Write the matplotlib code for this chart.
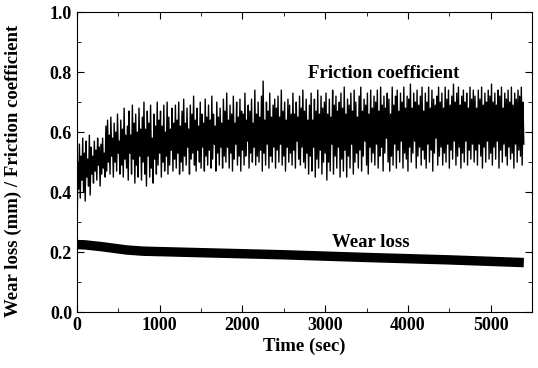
import matplotlib
matplotlib.use("Agg")
import matplotlib.pyplot as plt
import numpy as np
from matplotlib.ticker import MultipleLocator, FormatStrFormatter

plt.rcParams['font.family'] = ['Liberation Serif', 'DejaVu Serif']
plt.rcParams['font.weight'] = 'bold'

# friction coefficient, one reading every 10 s (0 .. 5400 s)
friction = [
    0.17, 0.50, 0.41, 0.56, 0.38, 0.52, 0.44, 0.58, 0.40, 0.53, 0.37, 0.57, 0.45, 0.51, 0.42, 0.59, 0.39, 0.55, 0.46, 0.52,
    0.43, 0.57, 0.47, 0.54, 0.44, 0.58, 0.49, 0.55, 0.42, 0.56, 0.46, 0.58, 0.48, 0.53, 0.45, 0.62, 0.47, 0.64, 0.50, 0.59,
    0.46, 0.65, 0.52, 0.58, 0.45, 0.63, 0.50, 0.60, 0.47, 0.66, 0.53, 0.57, 0.46, 0.64, 0.49, 0.61, 0.45, 0.68, 0.51, 0.59,
    0.48, 0.62, 0.44, 0.67, 0.53, 0.59, 0.46, 0.69, 0.51, 0.63, 0.43, 0.66, 0.49, 0.60, 0.45, 0.68, 0.52, 0.61, 0.44, 0.65,
    0.50, 0.70, 0.46, 0.61, 0.42, 0.67, 0.52, 0.63, 0.45, 0.69, 0.48, 0.58, 0.43, 0.66, 0.51, 0.62, 0.46, 0.70, 0.49, 0.64,
    0.53, 0.67, 0.45, 0.62, 0.50, 0.69, 0.47, 0.60, 0.52, 0.70, 0.46, 0.65, 0.49, 0.61, 0.54, 0.68, 0.47, 0.63, 0.51, 0.69,
    0.48, 0.64, 0.53, 0.70, 0.46, 0.62, 0.50, 0.67, 0.47, 0.71, 0.52, 0.63, 0.49, 0.68, 0.55, 0.61, 0.46, 0.69, 0.51, 0.66,
    0.53, 0.72, 0.49, 0.64, 0.47, 0.68, 0.54, 0.62, 0.50, 0.70, 0.48, 0.66, 0.55, 0.63, 0.47, 0.71, 0.52, 0.65, 0.49, 0.69,
    0.54, 0.64, 0.48, 0.72, 0.51, 0.66, 0.56, 0.62, 0.47, 0.70, 0.53, 0.65, 0.49, 0.68, 0.55, 0.63, 0.48, 0.71, 0.52, 0.67,
    0.50, 0.73, 0.55, 0.64, 0.48, 0.69, 0.53, 0.66, 0.47, 0.72, 0.51, 0.63, 0.56, 0.70, 0.49, 0.65, 0.52, 0.71, 0.47, 0.67,
    0.54, 0.66, 0.49, 0.73, 0.52, 0.64, 0.57, 0.69, 0.48, 0.67, 0.53, 0.71, 0.50, 0.63, 0.55, 0.74, 0.49, 0.66, 0.52, 0.70,
    0.50, 0.65, 0.54, 0.72, 0.47, 0.77, 0.53, 0.64, 0.49, 0.70, 0.56, 0.67, 0.48, 0.73, 0.52, 0.65, 0.50, 0.69, 0.55, 0.71,
    0.48, 0.68, 0.54, 0.72, 0.50, 0.65, 0.56, 0.74, 0.49, 0.67, 0.52, 0.70, 0.47, 0.64, 0.55, 0.71, 0.50, 0.69, 0.53, 0.66,
    0.49, 0.73, 0.54, 0.66, 0.48, 0.70, 0.57, 0.65, 0.51, 0.72, 0.49, 0.68, 0.55, 0.74, 0.50, 0.67, 0.48, 0.71, 0.53, 0.64,
    0.46, 0.69, 0.52, 0.73, 0.47, 0.64, 0.55, 0.71, 0.45, 0.67, 0.51, 0.74, 0.48, 0.66, 0.54, 0.72, 0.46, 0.68, 0.50, 0.70,
    0.53, 0.73, 0.44, 0.66, 0.50, 0.71, 0.47, 0.65, 0.56, 0.74, 0.46, 0.69, 0.52, 0.72, 0.48, 0.67, 0.55, 0.70, 0.45, 0.73,
    0.51, 0.68, 0.47, 0.75, 0.54, 0.66, 0.45, 0.71, 0.52, 0.69, 0.48, 0.73, 0.56, 0.67, 0.46, 0.74, 0.50, 0.70, 0.53, 0.65,
    0.48, 0.72, 0.54, 0.75, 0.47, 0.67, 0.52, 0.71, 0.57, 0.69, 0.49, 0.73, 0.46, 0.66, 0.55, 0.74, 0.50, 0.68, 0.53, 0.72,
    0.49, 0.70, 0.56, 0.74, 0.48, 0.67, 0.52, 0.75, 0.55, 0.69, 0.47, 0.72, 0.53, 0.68, 0.58, 0.73, 0.50, 0.71, 0.47, 0.66,
    0.52, 0.75, 0.49, 0.69, 0.56, 0.72, 0.48, 0.74, 0.54, 0.67, 0.50, 0.73, 0.57, 0.70, 0.48, 0.75, 0.53, 0.68, 0.51, 0.72,
    0.47, 0.71, 0.55, 0.76, 0.50, 0.68, 0.53, 0.73, 0.57, 0.70, 0.48, 0.74, 0.52, 0.69, 0.55, 0.72, 0.49, 0.75, 0.54, 0.67,
    0.51, 0.73, 0.48, 0.70, 0.56, 0.75, 0.50, 0.68, 0.54, 0.74, 0.47, 0.71, 0.53, 0.69, 0.58, 0.72, 0.49, 0.75, 0.52, 0.70,
    0.55, 0.73, 0.49, 0.68, 0.53, 0.75, 0.50, 0.71, 0.56, 0.74, 0.48, 0.69, 0.54, 0.72, 0.51, 0.76, 0.57, 0.70, 0.49, 0.73,
    0.52, 0.75, 0.55, 0.69, 0.48, 0.72, 0.53, 0.74, 0.50, 0.70, 0.57, 0.73, 0.49, 0.68, 0.54, 0.75, 0.51, 0.71, 0.56, 0.74,
    0.50, 0.72, 0.54, 0.68, 0.49, 0.74, 0.56, 0.71, 0.52, 0.75, 0.48, 0.69, 0.55, 0.73, 0.50, 0.70, 0.57, 0.74, 0.51, 0.72,
    0.53, 0.76, 0.49, 0.70, 0.55, 0.73, 0.51, 0.69, 0.57, 0.74, 0.48, 0.72, 0.54, 0.75, 0.50, 0.68, 0.56, 0.73, 0.52, 0.71,
    0.49, 0.74, 0.55, 0.70, 0.51, 0.75, 0.53, 0.69, 0.48, 0.73, 0.56, 0.71, 0.50, 0.74, 0.54, 0.72, 0.52, 0.75, 0.49, 0.70,
    0.56,
]
friction_time = np.arange(len(friction)) * 10

# wear loss (mm)
wear_time = [0, 100, 300, 600, 800, 1500, 2500, 3500, 4500, 5400]
wear_loss = [0.225, 0.224, 0.218, 0.207, 0.203, 0.198, 0.191, 0.182, 0.174, 0.165]

fig = plt.figure(figsize=(5.38, 3.68), dpi=100)
ax = fig.add_axes([0.143, 0.152, 0.846, 0.815])

ax.plot(friction_time, friction, color='black', linewidth=1.0)
ax.plot(wear_time, wear_loss, color='black', linewidth=6.8, solid_capstyle='butt')

ax.text(3712, 0.795, 'Friction coefficient', fontsize=13.5, fontweight='bold',
        ha='center', va='center')
ax.text(3555, 0.233, 'Wear loss', fontsize=13.5, fontweight='bold',
        ha='center', va='center')

ax.set_xlim(0, 5500)
ax.set_ylim(0, 1.0)
ax.xaxis.set_major_locator(MultipleLocator(1000))
ax.xaxis.set_minor_locator(MultipleLocator(500))
ax.yaxis.set_major_locator(MultipleLocator(0.2))
ax.yaxis.set_minor_locator(MultipleLocator(0.1))
ax.yaxis.set_major_formatter(FormatStrFormatter('%.1f'))
ax.tick_params(which='both', direction='in', top=True, right=True, labelsize=13)
ax.tick_params(which='major', length=5)
ax.tick_params(which='minor', length=3)
for lab in ax.get_xticklabels() + ax.get_yticklabels():
    lab.set_fontweight('bold')

ax.set_xlabel('Time (sec)', fontsize=13.5, fontweight='bold', labelpad=3)
ax.set_ylabel('Wear loss (mm) / Friction coefficient', fontsize=13.5,
              fontweight='bold')
ax.yaxis.set_label_coords(-0.12, 0.47)

fig.savefig('out.png', dpi=100)
